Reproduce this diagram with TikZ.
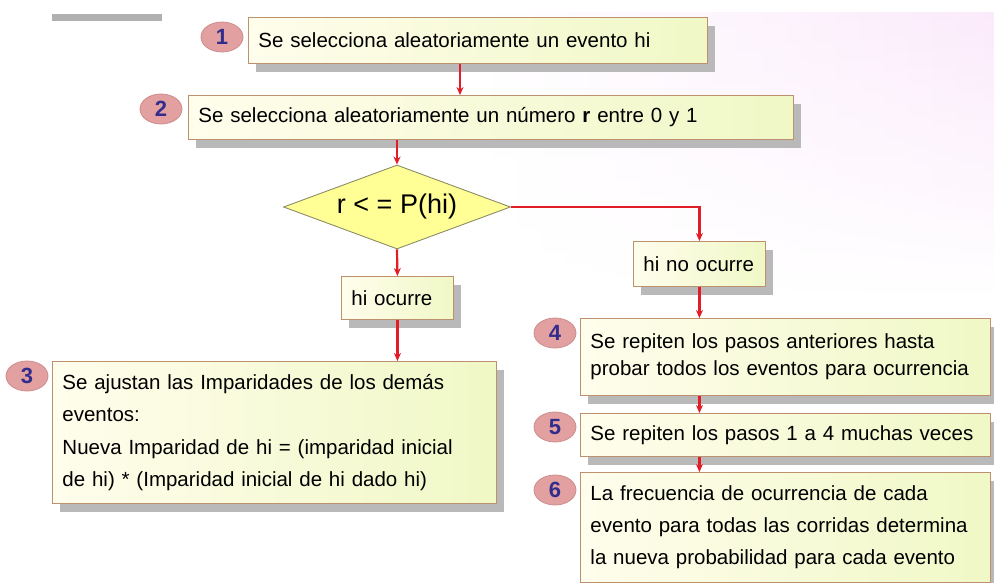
\documentclass[tikz,border=0pt]{standalone}
\usepackage{fontspec}
\setmainfont{Liberation Sans}
\usetikzlibrary{shapes.geometric,shadows,fadings,arrows.meta}
\definecolor{boxleft}{RGB}{255,253,236}
\definecolor{boxright}{RGB}{240,248,198}
\definecolor{boxborder}{RGB}{190,145,110}
\definecolor{shadowgray}{RGB}{185,185,185}
\definecolor{ballfill}{RGB}{226,160,160}
\definecolor{ballborder}{RGB}{205,140,140}
\definecolor{numblue}{RGB}{50,45,140}
\definecolor{arrred}{RGB}{225,30,40}
\definecolor{diafill}{RGB}{255,255,150}
\definecolor{diaborder}{RGB}{140,140,100}
\definecolor{pinkbg}{RGB}{251,234,251}
\definecolor{barg}{RGB}{176,176,176}
\tikzset{
  stepbox/.style={draw=boxborder, line width=0.9pt, left color=boxleft, right color=boxright,
    anchor=north west, inner xsep=10pt, inner ysep=0pt, align=left,
    font=\fontsize{20.5}{27}\selectfont,
    drop shadow={shadow xshift=8pt, shadow yshift=-9pt, fill=shadowgray, opacity=1}},
  numball/.style={ellipse, fill=ballfill, draw=ballborder, line width=0.8pt,
    minimum width=42pt, minimum height=30pt, inner sep=0pt, text=numblue,
    font=\bfseries\fontsize{22}{22}\selectfont},
  decision/.style={diamond, aspect=2.7, fill=diafill, draw=diaborder, line width=0.9pt,
    minimum width=227pt, minimum height=84pt, inner sep=0pt,
    font=\fontsize{27}{27}\selectfont},
  arr/.style={draw=arrred, line width=2.2pt, -{Stealth[length=8pt,width=7pt]}}
}
\begin{document}
\begin{tikzpicture}[x=1pt,y=-1pt]
\useasboundingbox (0,0) rectangle (994,583);
\shade[left color=white, right color=pinkbg, path fading=south] (480,12) rectangle (994,300);
\fill[barg] (52,14) rectangle (162,21);

% boxes
\node[stepbox, text width=439pt, minimum height=46pt] (b1) at (248,17)
  {Se selecciona aleatoriamente un evento hi};
\node[stepbox, text width=585pt, minimum height=44pt] (b2) at (188,95)
  {Se selecciona aleatoriamente un número \textbf{r} entre 0 y 1};
\node[decision] (d) at (397,207) {r < = P(hi)};
\node[stepbox, text width=92pt, minimum height=43pt] (ho) at (341,276) {hi ocurre};
\node[stepbox, text width=112pt, minimum height=45pt] (hno) at (633,241) {hi no ocurre};
\node[stepbox, text width=424pt, minimum height=142pt, font=\fontsize{20.5}{32.5}\selectfont] (b3) at (52,361)
  {Se ajustan las Imparidades de los demás\\eventos:\\Nueva Imparidad de hi = (imparidad inicial\\de hi) * (Imparidad inicial de hi dado hi)};
\node[stepbox, text width=390pt, minimum height=77pt] (b4) at (580,318)
  {Se repiten los pasos anteriores hasta\\probar todos los eventos para ocurrencia};
\node[stepbox, text width=390pt, minimum height=43pt] (b5) at (580,413)
  {Se repiten los pasos 1 a 4 muchas veces};
\node[stepbox, text width=390pt, minimum height=110pt, font=\fontsize{20.5}{32}\selectfont] (b6) at (580,472)
  {La frecuencia de ocurrencia de cada\\evento para todas las corridas determina\\la nueva probabilidad para cada evento};

% number balls
\node[numball] (n1) at (222,37) {1};
\node[numball] (n2) at (161,109) {2};
\node[numball] (n3) at (27,376) {3};
\node[numball] (n4) at (555,333) {4};
\node[numball] (n5) at (555,427) {5};
\node[numball] (n6) at (555,490) {6};

% connectors
\coordinate (c12) at (460,0);
\draw[arr] (b1.south -| c12) -- (b2.north -| c12);
\draw[arr] (b2.south -| d.north) -- (d.north);
\draw[arr] (d.south) -- (ho.north);
\draw[arr] (ho.south) -- (b3.north -| ho.south);
\draw[arr] (d.east) -| (hno.north);
\draw[arr] (hno.south) -- (b4.north -| hno.south);
\draw[arr] (b4.south -| hno.south) -- (b5.north -| hno.south);
\draw[arr] (b5.south -| hno.south) -- (b6.north -| hno.south);
\end{tikzpicture}
\end{document}
